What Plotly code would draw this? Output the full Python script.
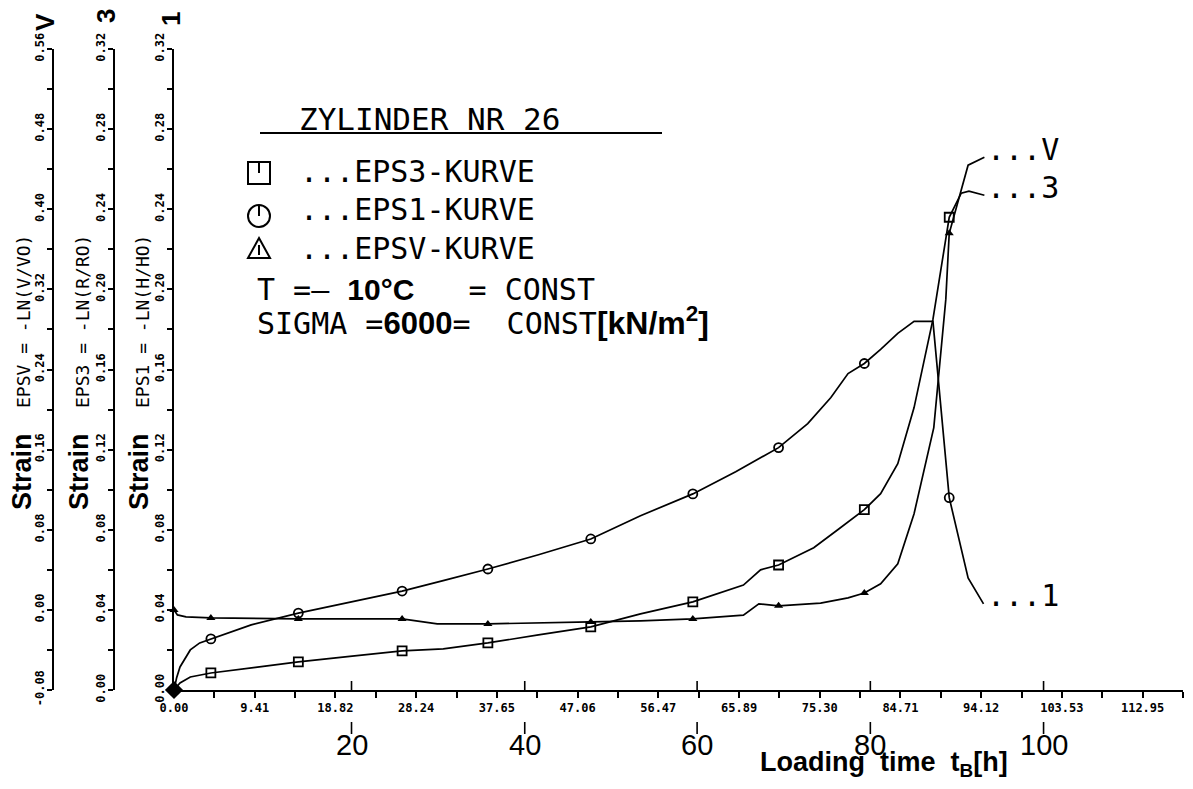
import plotly.graph_objects as go

# ---------------- data (x in plotted axis units, labelled 0.00 ... 112.95) ----------------
x_tick_labels = ["0.00", "9.41", "18.82", "28.24", "37.65", "47.06", "56.47",
                 "65.89", "75.30", "84.71", "94.12", "103.53", "112.95"]
x_minor_step = 4.70625
x_end = 117.66

hour_labels = ["20", "40", "60", "80", "100"]
hour_positions = [20.7, 40.9, 61.0, 81.2, 101.4]

y1_ticks = [0.00, 0.04, 0.08, 0.12, 0.16, 0.20, 0.24, 0.28, 0.32]
yv_ticks = [-0.08, 0.00, 0.08, 0.16, 0.24, 0.32, 0.40, 0.48, 0.56]

# EPS1 = -LN(H/H0)  (circles)
t_eps1 = [0, 0.3, 0.7, 1.9, 3.0, 4.3, 9.0, 14.5, 20.5, 26.6, 31.5, 36.6, 42.5, 48.6,
          54.4, 60.5, 65.5, 70.5, 73.9, 76.6, 78.6, 80.5, 82.4, 84.4, 86.3, 88.5,
          90.4, 92.6, 94.4]
eps1 = [0, 0.006, 0.0115, 0.020, 0.0235, 0.0255, 0.0325, 0.0384, 0.0438, 0.0494,
        0.0547, 0.0604, 0.0675, 0.0754, 0.087, 0.0979, 0.109, 0.121, 0.133, 0.146,
        0.158, 0.163, 0.170, 0.178, 0.184, 0.184, 0.096, 0.056, 0.043]

# EPS3 = -LN(R/R0)  (squares)
t_eps3 = [0, 0.7, 1.9, 3.0, 4.3, 9.5, 14.5, 20.5, 26.6, 31.4, 36.6, 42.5, 48.6, 54.4,
          60.5, 66.4, 68.4, 70.5, 74.6, 77.4, 80.5, 82.4, 84.4, 86.3, 88.5, 90.4,
          91.8, 92.7, 94.5]
eps3 = [0, 0.0035, 0.0065, 0.0075, 0.0085, 0.0113, 0.014, 0.0168, 0.0195, 0.0205,
        0.0235, 0.0275, 0.0315, 0.038, 0.044, 0.0524, 0.060, 0.0624, 0.071, 0.080,
        0.090, 0.098, 0.113, 0.141, 0.185, 0.236, 0.248, 0.249, 0.247]

# EPSV = -LN(V/V0)  (triangles)
t_epsv = [0, 0.4, 1.4, 4.3, 14.5, 26.6, 30.7, 36.6, 48.6, 54.4, 60.5, 66.4, 68.2,
          70.5, 75.4, 78.6, 80.5, 82.4, 84.4, 86.3, 88.6, 90.0, 90.4, 92.6, 94.5]
epsv = [0.0, -0.005, -0.007, -0.008, -0.009, -0.009, -0.014, -0.014, -0.012, -0.011,
        -0.009, -0.0052, 0.006, 0.004, 0.0068, 0.012, 0.0168, 0.026, 0.046, 0.096,
        0.182, 0.31, 0.376, 0.444, 0.452]

# measured points (markers)
t_mark = [4.3, 14.5, 26.6, 36.6, 48.6, 60.5, 70.5, 80.5, 90.4]
eps1_mark = [0.0255, 0.0384, 0.0494, 0.0604, 0.0754, 0.0979, 0.121, 0.163, 0.096]
eps3_mark = [0.0085, 0.014, 0.0195, 0.0235, 0.0315, 0.044, 0.0624, 0.090, 0.236]
epsv_mark = [-0.008, -0.009, -0.009, -0.014, -0.012, -0.009, 0.004, 0.0168, 0.376]

# ---------------- layout helpers ----------------
# the page body has an 8 px margin, so the figure is drawn 8 px right / down
BODY = 8
W, H = 1193 - BODY, 789 - BODY
ML, MR, MT, MB = 20 - BODY, 10, 49 - BODY, 99
PW, PH = W - ML - MR, H - MT - MB


def px(x):
    """screen x (px) -> paper fraction"""
    return (x - BODY - ML) / PW


def py(y):
    """screen y (px) -> paper fraction"""
    return (H - MB - (y - BODY)) / PH


MONO = "DejaVu Sans Mono"
SANS = "Liberation Sans"
BLACK = "black"
LW = 1.7

fig = go.Figure()

# curves
fig.add_trace(go.Scatter(x=t_eps1, y=eps1, mode="lines", line=dict(color=BLACK, width=LW),
                         yaxis="y", showlegend=False, hoverinfo="skip"))
fig.add_trace(go.Scatter(x=t_eps3, y=eps3, mode="lines", line=dict(color=BLACK, width=LW),
                         yaxis="y2", showlegend=False, hoverinfo="skip"))
fig.add_trace(go.Scatter(x=t_epsv, y=epsv, mode="lines", line=dict(color=BLACK, width=LW),
                         yaxis="y3", showlegend=False, hoverinfo="skip"))

# markers
fig.add_trace(go.Scatter(x=t_mark, y=eps1_mark, mode="markers", yaxis="y",
                         marker=dict(symbol="circle-open", size=9, color=BLACK, line=dict(width=1.8)),
                         showlegend=False))
fig.add_trace(go.Scatter(x=t_mark, y=eps3_mark, mode="markers", yaxis="y2",
                         marker=dict(symbol="square-open", size=9, color=BLACK, line=dict(width=1.8)),
                         showlegend=False))
fig.add_trace(go.Scatter(x=[t_epsv[0]] + t_mark, y=[epsv[0]] + epsv_mark, mode="markers", yaxis="y3",
                         marker=dict(symbol="triangle-up", size=8, color=BLACK),
                         cliponaxis=False, showlegend=False))
# common origin
fig.add_trace(go.Scatter(x=[t_eps1[0]], y=[eps1[0]], mode="markers", yaxis="y",
                         marker=dict(symbol="diamond", size=14, color=BLACK),
                         cliponaxis=False, showlegend=False))

axis_common = dict(showline=True, linecolor=BLACK, linewidth=2, ticks="outside",
                   ticklen=5, tickwidth=1.5, tickcolor=BLACK, showgrid=False, zeroline=False,
                   automargin=False, ticklabelstandoff=-2,
                   tickangle=-90, tickfont=dict(family=MONO, size=12, color=BLACK, weight="bold"),
                   minor=dict(ticks="outside", ticklen=5, tickwidth=1.5, tickcolor=BLACK,
                              dtick=0.02, showgrid=False))

fig.update_layout(
    width=W, height=H,
    margin=dict(l=ML, r=MR, t=MT, b=MB, autoexpand=False),
    paper_bgcolor="white", plot_bgcolor="white",
    xaxis=dict(domain=[px(174), 1], range=[0, x_end], showline=True, linecolor=BLACK, linewidth=2,
               ticks="outside", ticklen=6, tickwidth=1.5, tickcolor=BLACK, showgrid=False,
               zeroline=False, automargin=False,
               tickvals=[float(s) for s in x_tick_labels], ticktext=x_tick_labels,
               tickfont=dict(family=MONO, size=12, color=BLACK, weight="bold"),
               minor=dict(ticks="outside", ticklen=6, tickwidth=1.5, tickcolor=BLACK,
                          tick0=0, dtick=x_minor_step, showgrid=False)),
    yaxis=dict(range=[0, 0.32], tickvals=y1_ticks, ticktext=[f"{v:.2f}" for v in y1_ticks],
               anchor="x", **axis_common),
    yaxis2=dict(range=[0, 0.32], tickvals=y1_ticks, ticktext=[f"{v:.2f}" for v in y1_ticks],
                anchor="free", overlaying="y", position=px(114), **axis_common),
    yaxis3=dict(range=[-0.08, 0.56], tickvals=yv_ticks, ticktext=[f"{v:.2f}" for v in yv_ticks],
                anchor="free", overlaying="y", position=px(53),
                **{**axis_common, "minor": dict(ticks="outside", ticklen=5, tickwidth=1.5,
                                                tickcolor=BLACK, dtick=0.04, showgrid=False)}),
)

ann = []
DXR = 2   # rotated text boxes sit slightly right of the glyph centre


def text(xp, yp, s, size, family=MONO, angle=0, xanchor="center", bold=False):
    if angle:
        xp -= DXR
    ann.append(dict(x=px(xp), y=py(yp), xref="paper", yref="paper", text=s, showarrow=False,
                    textangle=angle, xanchor=xanchor, yanchor="middle",
                    font=dict(family=family, size=size, color=BLACK,
                              weight="bold" if bold else "normal")))


# axis titles
for xs, xe, sub, top, xt, yt in [(24, 25, "EPSV = -LN(V/VO)", "V", 47, 22),
                                  (81, 84, "EPS3 = -LN(R/RO)", "3", 108, 16),
                                  (141, 144, "EPS1 = -LN(H/HO)", "1", 173, 19)]:
    text(xs, 472, "Strain", 27, SANS, -90, bold=True)
    text(xe, 322, sub, 18, MONO, -90)
    text(xt, yt, top, 26, SANS, -90, bold=True)

# legend block
def bold_span(s, size):
    return f"<span style='font-family:Liberation Sans;font-weight:bold;font-size:{size}px'>{s}</span>"


text(297, 119, "ZYLINDER NR 26", 31, MONO, xanchor="left")
text(298, 171, "...EPS3-KURVE", 30, MONO, xanchor="left")
text(298, 210, "...EPS1-KURVE", 30, MONO, xanchor="left")
text(298, 249, "...EPSV-KURVE", 30, MONO, xanchor="left")
text(255, 289, "T =– " + bold_span("10°C", 30) + "   = CONST", 30, MONO, xanchor="left")
text(255, 321, "SIGMA =" + bold_span("6000", 31) + "=  CONST" + bold_span("[kN/m<sup>2</sup>]", 32),
     30, MONO, xanchor="left")

# curve end labels
for xv, yv, yref, lab in [(t_epsv[-1], epsv[-1], "y3", "...V"),
                          (t_eps3[-1], eps3[-1], "y2", "...3"),
                          (t_eps1[-1], eps1[-1], "y", "...1")]:
    ann.append(dict(x=xv, y=yv, xref="x", yref=yref, text=lab, showarrow=False,
                    xanchor="left", yanchor="middle", xshift=1, yshift=8,
                    font=dict(family=MONO, size=30, color=BLACK)))

# hour scale
for pos, lab in zip(hour_positions, hour_labels):
    ann.append(dict(x=pos, y=py(745), xref="x", yref="paper", text=lab, showarrow=False,
                    xanchor="center", yanchor="middle",
                    font=dict(family=SANS, size=29, color=BLACK)))

text(758, 764, "Loading  time  t<sub>B</sub>[h]", 27, SANS, xanchor="left", bold=True)

fig.update_layout(annotations=ann)

# legend symbols and underline
sym_x = 259
sym_r = 11
sym_rows = [173, 216, 249]
shp = dict(xref="paper", yref="paper", line=dict(color=BLACK, width=2))
shapes = [dict(type="line", x0=px(260), x1=px(662), y0=py(133), y1=py(133), **shp)]
shapes.append(dict(type="rect", x0=px(sym_x - sym_r), x1=px(sym_x + sym_r),
                   y0=py(sym_rows[0] - sym_r), y1=py(sym_rows[0] + sym_r), **shp))
shapes.append(dict(type="line", x0=px(sym_x), x1=px(sym_x),
                   y0=py(sym_rows[0] - sym_r), y1=py(sym_rows[0]), **shp))
shapes.append(dict(type="circle", x0=px(sym_x - sym_r), x1=px(sym_x + sym_r),
                   y0=py(sym_rows[1] - sym_r), y1=py(sym_rows[1] + sym_r), **shp))
shapes.append(dict(type="line", x0=px(sym_x), x1=px(sym_x),
                   y0=py(sym_rows[1] - sym_r), y1=py(sym_rows[1]), **shp))
ty = sym_rows[2]
tri = (f"M {px(sym_x)} {py(ty - sym_r)} L {px(sym_x + sym_r)} {py(ty + sym_r - 2)} "
       f"L {px(sym_x - sym_r)} {py(ty + sym_r - 2)} Z")
shapes.append(dict(type="path", path=tri, **shp))
shapes.append(dict(type="line", x0=px(sym_x), x1=px(sym_x),
                   y0=py(ty - 4), y1=py(ty + 6), **shp))

for pos in hour_positions:
    shapes.append(dict(type="line", xref="x", yref="paper", x0=pos, x1=pos,
                       y0=py(690), y1=py(681), line=dict(color=BLACK, width=1.6)))
    shapes.append(dict(type="line", xref="x", yref="paper", x0=pos, x1=pos,
                       y0=py(722), y1=py(734), line=dict(color=BLACK, width=1.6)))
fig.update_layout(shapes=shapes)

fig.write_html("out.html")
